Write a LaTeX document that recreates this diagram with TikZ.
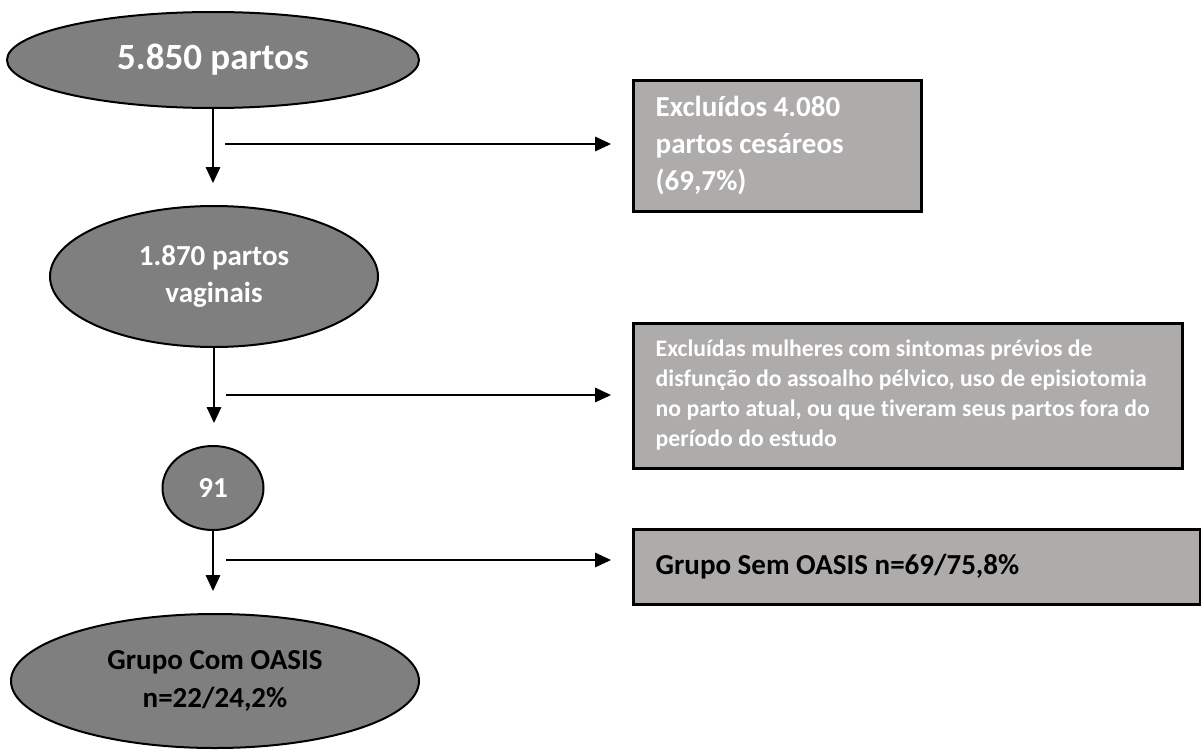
\documentclass[tikz,border=0pt]{standalone}
\usepackage{fontspec}
\setmainfont{Carlito}[Ligatures=NoCommon]
\usepackage{tikz}
\usetikzlibrary{arrows.meta}
\usetikzlibrary{shapes,positioning}
\definecolor{elipsecinza}{HTML}{7F7F7F}
\definecolor{caixacinza}{HTML}{AEABAB}
\tikzset{elipse/.style={ellipse, draw, line width=1.5pt, fill=elipsecinza,
    text=white, inner sep=0pt, align=center,
    font=\bfseries\fontsize{21.75}{28}\selectfont},
  caixa/.style={rectangle, draw, line width=2.25pt, fill=caixacinza,
    text=white, inner xsep=17pt, inner ysep=0pt, align=flush left,
    font=\bfseries\fontsize{21.75}{28}\selectfont},
  seta/.style={-{Triangle[length=12pt,width=11pt]}, line width=0.8pt}}

\begin{document}
\begin{tikzpicture}[x=0.75pt, y=-0.75pt]
  \useasboundingbox (0,0) rectangle (1201,749);

  \node[elipse, minimum width=309pt, minimum height=72pt,
    font=\bfseries\fontsize{27.75}{33}\selectfont] (partos) at (213,60)
    {5.850 partos};
  \node[elipse, minimum width=246pt, minimum height=105.75pt] (vaginais)
    at (214,276.5) {1.870 partos\\vaginais};
  \node[elipse, minimum width=75.75pt, minimum height=63pt] (n91)
    at (213,488) {91};
  \node[elipse, minimum width=306pt, minimum height=100.5pt, text=black]
    (comoasis) at (215,681) {Grupo Com OASIS\\n=22/24,2\%};

  \node[caixa, text width=182pt, minimum height=98.25pt] (cesareos)
    at (777,145.5) {Excluídos 4.080\\partos cesáreos\\(69,7\%)};
  \node[caixa, text width=377.75pt, minimum height=108.75pt,
    font=\bfseries\fontsize{17.8}{22.5}\selectfont] (excluidas) at (907.5,395.5)
    {Excluídas mulheres com sintomas prévios de\\
     disfunção do assoalho pélvico, uso de episiotomia\\
     no parto atual, ou que tiveram seus partos fora do\\
     período do estudo};
  \node[caixa, text width=391.25pt, minimum height=56.25pt, text=black]
    (semoasis) at (916.5,566.5) {Grupo Sem OASIS n=69/75,8\%};

  % setas
  \coordinate (v1) at (213,183);
  \coordinate (v2) at (214,423);
  \coordinate (v3) at (213,591);
  \coordinate (h1) at (225,144);
  \coordinate (h2) at (226,395);
  \coordinate (h3) at (226,560);
  \coordinate (e1) at (611,144);
  \coordinate (e2) at (611,395);
  \coordinate (e3) at (611,560);
  \draw[seta] (partos) -- (v1);
  \draw[seta] (vaginais) -- (v2);
  \draw[seta] (n91) -- (v3);
  \draw[seta] (h1) -- (e1);
  \draw[seta] (h2) -- (e2);
  \draw[seta] (h3) -- (e3);
\end{tikzpicture}
\end{document}
